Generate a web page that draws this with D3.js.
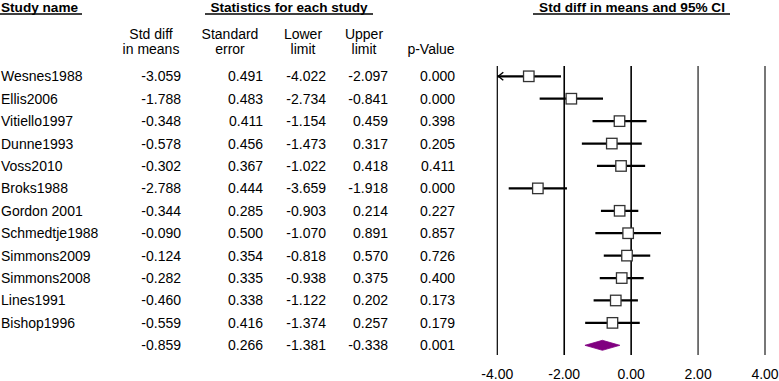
<!DOCTYPE html>
<html><head><meta charset="utf-8">
<script src="https://cdn.jsdelivr.net/npm/d3@7"></script>
<style>body{margin:0;background:#fff}svg{display:block}text{font-family:"Liberation Sans",Arial,sans-serif;font-size:14px;fill:#000}</style>
</head><body>
<script>
const studies = ["Wesnes1988","Ellis2006","Vitiello1997","Dunne1993","Voss2010","Broks1988","Gordon 2001","Schmedtje1988","Simmons2009","Simmons2008","Lines1991","Bishop1996",""];
const effect = [-3.059,-1.788,-0.348,-0.578,-0.302,-2.788,-0.344,-0.090,-0.124,-0.282,-0.460,-0.559,-0.859];
const stderr = [0.491,0.483,0.411,0.456,0.367,0.444,0.285,0.500,0.354,0.335,0.338,0.416,0.266];
const lower = [-4.022,-2.734,-1.154,-1.473,-1.022,-3.659,-0.903,-1.070,-0.818,-0.938,-1.122,-1.374,-1.381];
const upper = [-2.097,-0.841,0.459,0.317,0.418,-1.918,0.214,0.891,0.570,0.375,0.202,0.257,-0.338];
const pvalue = [0.000,0.000,0.398,0.205,0.411,0.000,0.227,0.857,0.726,0.400,0.173,0.179,0.001];
const ticks = [-4,-2,0,2,4];
const tickLabels = ["-4.00","-2.00","0.00","2.00","4.00"];

const W=779,H=381;
const svg=d3.select("body").append("svg").attr("width",W).attr("height",H);
const x=d3.scaleLinear().domain([-4,4]).range([497.3,765]);
const y=d3.scaleLinear().domain([0,12]).range([76.3,345.3]);
const n=studies.length;

// headers
const hdr=[{t:"Study name",x:1,u:[0,82]},{t:"Statistics for each study",x:289,a:"middle",u:[205,373]},{t:"Std diff in means and 95% CI",x:632,a:"middle",u:[533,730]}];
hdr.forEach(h=>{
  svg.append("text").attr("x",h.x).attr("y",12).attr("text-anchor",h.a||"start").style("font-weight","bold").style("font-size","13.6px").text(h.t);
  svg.append("line").attr("x1",h.u[0]).attr("x2",h.u[1]).attr("y1",14).attr("y2",14).attr("stroke","#000").attr("stroke-width",1.3);
});
const sub=[{l:["Std diff","in means"],x:151},{l:["Standard","error"],x:230},{l:["Lower","limit"],x:303},{l:["Upper","limit"],x:364},{l:["","p-Value"],x:431}];
sub.forEach(s=>s.l.forEach((t,i)=>svg.append("text").attr("x",s.x).attr("y",39+i*14.5).attr("text-anchor","middle").text(t)));

// table
const cols=[{v:effect,x:181},{v:stderr,x:263},{v:lower,x:326},{v:upper,x:388},{v:pvalue,x:455}];
const fmt=d3.format(".3f");
studies.forEach((s,i)=>{
  svg.append("text").attr("x",1).attr("y",y(i)+5).text(s);
  cols.forEach(c=>svg.append("text").attr("x",c.x).attr("y",y(i)+5).attr("text-anchor","end").text(fmt(c.v[i]).replace("−","-")));
});

// grid lines
ticks.forEach((t,i)=>{
  svg.append("line").attr("x1",x(t)).attr("x2",x(t)).attr("y1",66).attr("y2",355)
    .attr("stroke",t>0?"#555":"#000").attr("stroke-width",t===-4?1.2:1.6);
  svg.append("text").attr("x",x(t)).attr("y",379).attr("text-anchor","middle").text(tickLabels[i]);
});

// CI lines and boxes
const dom=x.domain();
for(let i=0;i<n-1;i++){
  const lo=Math.max(lower[i],dom[0]), hi=Math.min(upper[i],dom[1]);
  svg.append("line").attr("x1",x(lo)).attr("x2",x(hi)).attr("y1",y(i)).attr("y2",y(i)).attr("stroke","#000").attr("stroke-width",2.2);
  if(lower[i]<dom[0]){
    svg.append("path").attr("d",`M${x(dom[0])+6},${y(i)-4}L${x(dom[0])+1},${y(i)}L${x(dom[0])+6},${y(i)+4}`).attr("fill","none").attr("stroke","#000").attr("stroke-width",1.4);
  }
  const b=10.5;
  svg.append("rect").attr("x",x(effect[i])-b/2).attr("y",y(i)-b/2).attr("width",b).attr("height",b).attr("fill","#fff").attr("stroke","#333").attr("stroke-width",1.3);
}
// summary diamond
const k=n-1;
svg.append("path").attr("d",`M${x(lower[k])},${y(k)}L${x(effect[k])},${y(k)-5}L${x(upper[k])},${y(k)}L${x(effect[k])},${y(k)+5}Z`).attr("fill","#800080").attr("stroke","#800080").attr("stroke-width",0.8);
</script>
</body></html>
